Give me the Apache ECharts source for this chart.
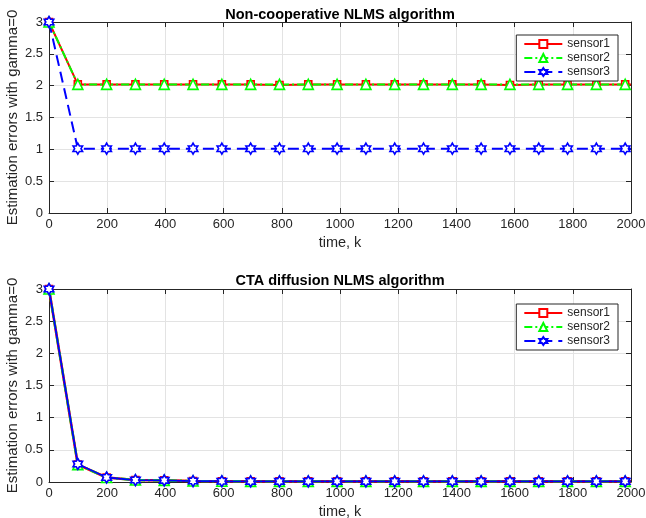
<!DOCTYPE html>
<html>
<head>
<meta charset="utf-8">
<script src="https://cdn.jsdelivr.net/npm/echarts@6/dist/echarts.min.js"></script>
<style>
  html, body { margin: 0; padding: 0; background: #fff; }
  #main { width: 646px; height: 518px; }
</style>
</head>
<body>
<div id="main"></div>
<script>
// time steps where markers sit (last point = end of run, no marker)
const timeK = [0, 99, 198, 297, 396, 495, 594, 693, 792, 891, 990, 1089, 1188, 1287, 1386, 1485, 1584, 1683, 1782, 1881, 1980, 2000]

// Non-cooperative NLMS
const nonCoopS1 = [3, 2.02, 2.02, 2.02, 2.02, 2.02, 2.02, 2.02, 2.01, 2.02, 2.02, 2.02, 2.02, 2.02, 2.02, 2.02, 2.01, 2.02, 2.02, 2.02, 2.02, 2.02]
const nonCoopS2 = [3, 2.02, 2.02, 2.02, 2.02, 2.02, 2.02, 2.02, 2.02, 2.02, 2.02, 2.02, 2.02, 2.02, 2.02, 2.02, 2.02, 2.02, 2.02, 2.02, 2.02, 2.02]
const nonCoopS3 = [3, 1.01, 1.01, 1.01, 1.01, 1.01, 1.01, 1.01, 1.01, 1.01, 1.01, 1.01, 1.01, 1.01, 1.01, 1.01, 1.01, 1.01, 1.01, 1.01, 1.01, 1.01]

// CTA diffusion NLMS
const ctaS1 = [3, 0.27, 0.07, 0.03, 0.025, 0.015, 0.012, 0.01, 0.01, 0.01, 0.01, 0.01, 0.01, 0.01, 0.01, 0.01, 0.01, 0.01, 0.01, 0.01, 0.01, 0.01]
const ctaS2 = [3, 0.27, 0.07, 0.03, 0.025, 0.015, 0.012, 0.01, 0.01, 0.01, 0.01, 0.01, 0.01, 0.01, 0.01, 0.01, 0.01, 0.01, 0.01, 0.01, 0.01, 0.01]
const ctaS3 = [3, 0.28, 0.07, 0.03, 0.025, 0.015, 0.012, 0.01, 0.01, 0.01, 0.01, 0.01, 0.01, 0.01, 0.01, 0.01, 0.01, 0.01, 0.01, 0.01, 0.01, 0.01]

const sensorNames = ['sensor1', 'sensor2', 'sensor3']
const titles = ['Non-cooperative NLMS algorithm', 'CTA diffusion NLMS algorithm']
const xLabel = 'time, k'
const yLabel = 'Estimation errors with gamma=0'

const FONT = '"Liberation Sans", Arial, sans-serif'
const AX = '#262626'
const hexagram = 'path://M0 -100 L28.9 -50 L86.6 -50 L57.7 0 L86.6 50 L28.9 50 L0 100 L-28.9 50 L-86.6 50 L-57.7 0 L-86.6 -50 L-28.9 -50 Z'

const styles = [
    { color: '#ff0000', symbol: 'rect', symbolSize: 7, type: 'solid', width: 2 },
    { color: '#00ff00', symbol: 'triangle', symbolSize: 10, type: [8, 3, 2, 3], width: 2 },
    { color: '#0000ff', symbol: hexagram, symbolSize: 11, type: [11, 6], width: 2 },
]
// in the diffusion plot the curves are noisy, so the dashes run together
const stylesCta = [
    { color: '#ff0000', symbol: 'rect', symbolSize: 7, type: 'solid', width: 2.6 },
    { color: '#00ff00', symbol: 'triangle', symbolSize: 10, type: [8, 3, 2, 3], width: 2.4 },
    { color: '#0000ff', symbol: hexagram, symbolSize: 11, type: 'solid', width: 1.8 },
]

function toPoints(vals) {
    return timeK.map((k, i) => {
        const item = { value: [k, vals[i]] }
        if (i === timeK.length - 1) item.symbol = 'none'
        return item
    })
}

function makeSeries(gridIdx, vals, s, name) {
    return {
        name: name,
        type: 'line',
        xAxisIndex: gridIdx * 2,
        yAxisIndex: gridIdx * 2,
        data: toPoints(vals),
        symbol: s.symbol,
        symbolSize: s.symbolSize,
        symbolKeepAspect: true,
        showAllSymbol: true,
        animation: false,
        lineStyle: { color: s.color, width: s.width, type: s.type },
        itemStyle: { color: '#fff', borderColor: s.color, borderWidth: 1.6 },
    }
}

function axisPair(gridIdx) {
    const mainX = {
        type: 'value', gridIndex: gridIdx, min: 0, max: 2000, interval: 200,
        name: xLabel, nameLocation: 'middle', nameGap: 22, nameMoveOverlap: false,
        nameTextStyle: { color: AX, fontSize: 14.5, fontFamily: FONT },
        axisLine: { show: true, lineStyle: { color: AX, width: 1 } },
        axisTick: { show: true, inside: true, length: 5, lineStyle: { color: AX } },
        axisLabel: { color: AX, fontSize: 13, fontFamily: FONT, margin: 5, formatter: (v) => String(v) },
        splitLine: { show: true, lineStyle: { color: '#e3e3e3', width: 1 } },
    }
    const boxX = {
        type: 'value', gridIndex: gridIdx, min: 0, max: 2000, interval: 200, position: 'top',
        axisLine: { show: true, onZero: false, lineStyle: { color: AX, width: 1 } },
        axisTick: { show: true, inside: true, length: 5, lineStyle: { color: AX } },
        axisLabel: { show: false }, splitLine: { show: false },
    }
    const mainY = {
        type: 'value', gridIndex: gridIdx, min: 0, max: 3, interval: 0.5,
        name: yLabel, nameLocation: 'middle', nameGap: 29, nameMoveOverlap: false,
        nameTextStyle: { color: AX, fontSize: 15, fontFamily: FONT },
        axisLine: { show: true, lineStyle: { color: AX, width: 1 } },
        axisTick: { show: true, inside: true, length: 5, lineStyle: { color: AX } },
        axisLabel: { color: AX, fontSize: 13, fontFamily: FONT, margin: 6, formatter: (v) => String(v) },
        splitLine: { show: true, lineStyle: { color: '#e3e3e3', width: 1 } },
    }
    const boxY = {
        type: 'value', gridIndex: gridIdx, min: 0, max: 3, interval: 0.5, position: 'right',
        axisLine: { show: true, onZero: false, lineStyle: { color: AX, width: 1 } },
        axisTick: { show: true, inside: true, length: 5, lineStyle: { color: AX } },
        axisLabel: { show: false }, splitLine: { show: false },
    }
    return { x: [mainX, boxX], y: [mainY, boxY] }
}

function legendAt(top) {
    return {
        orient: 'vertical', right: 28, top: top,
        data: sensorNames,
        backgroundColor: '#fff',
        borderColor: AX, borderWidth: 1, borderRadius: 0,
        padding: [2, 8, 2, 7],
        itemWidth: 38, itemHeight: 10, itemGap: 0,
        selectedMode: false,
        textStyle: { color: AX, fontSize: 12, lineHeight: 14, fontFamily: FONT },
    }
}

const chart = echarts.init(document.getElementById('main'), null, { width: 646, height: 518 })
const a0 = axisPair(0)
const a1 = axisPair(1)

const option = {
    backgroundColor: '#fff',
    animation: false,
    title: [
        { text: titles[0], left: 335, top: 2, textAlign: 'center',
          textStyle: { fontSize: 14.5, fontWeight: 'bold', color: '#000', fontFamily: FONT } },
        { text: titles[1], left: 335, top: 268, textAlign: 'center',
          textStyle: { fontSize: 14.5, fontWeight: 'bold', color: '#000', fontFamily: FONT } },
    ],
    legend: [legendAt(35), legendAt(304)],
    grid: [
        { left: 49, right: 15, top: 22, height: 191, containLabel: false, outerBoundsMode: 'none' },
        { left: 49, right: 15, top: 289, height: 193, containLabel: false, outerBoundsMode: 'none' },
    ],
    xAxis: a0.x.concat(a1.x),
    yAxis: a0.y.concat(a1.y),
    series: [
        makeSeries(0, nonCoopS1, styles[0], sensorNames[0]),
        makeSeries(0, nonCoopS2, styles[1], sensorNames[1]),
        makeSeries(0, nonCoopS3, styles[2], sensorNames[2]),
        makeSeries(1, ctaS1, stylesCta[0], sensorNames[0]),
        makeSeries(1, ctaS2, stylesCta[1], sensorNames[1]),
        makeSeries(1, ctaS3, stylesCta[2], sensorNames[2]),
    ],
}

chart.setOption(option)
</script>
</body>
</html>
